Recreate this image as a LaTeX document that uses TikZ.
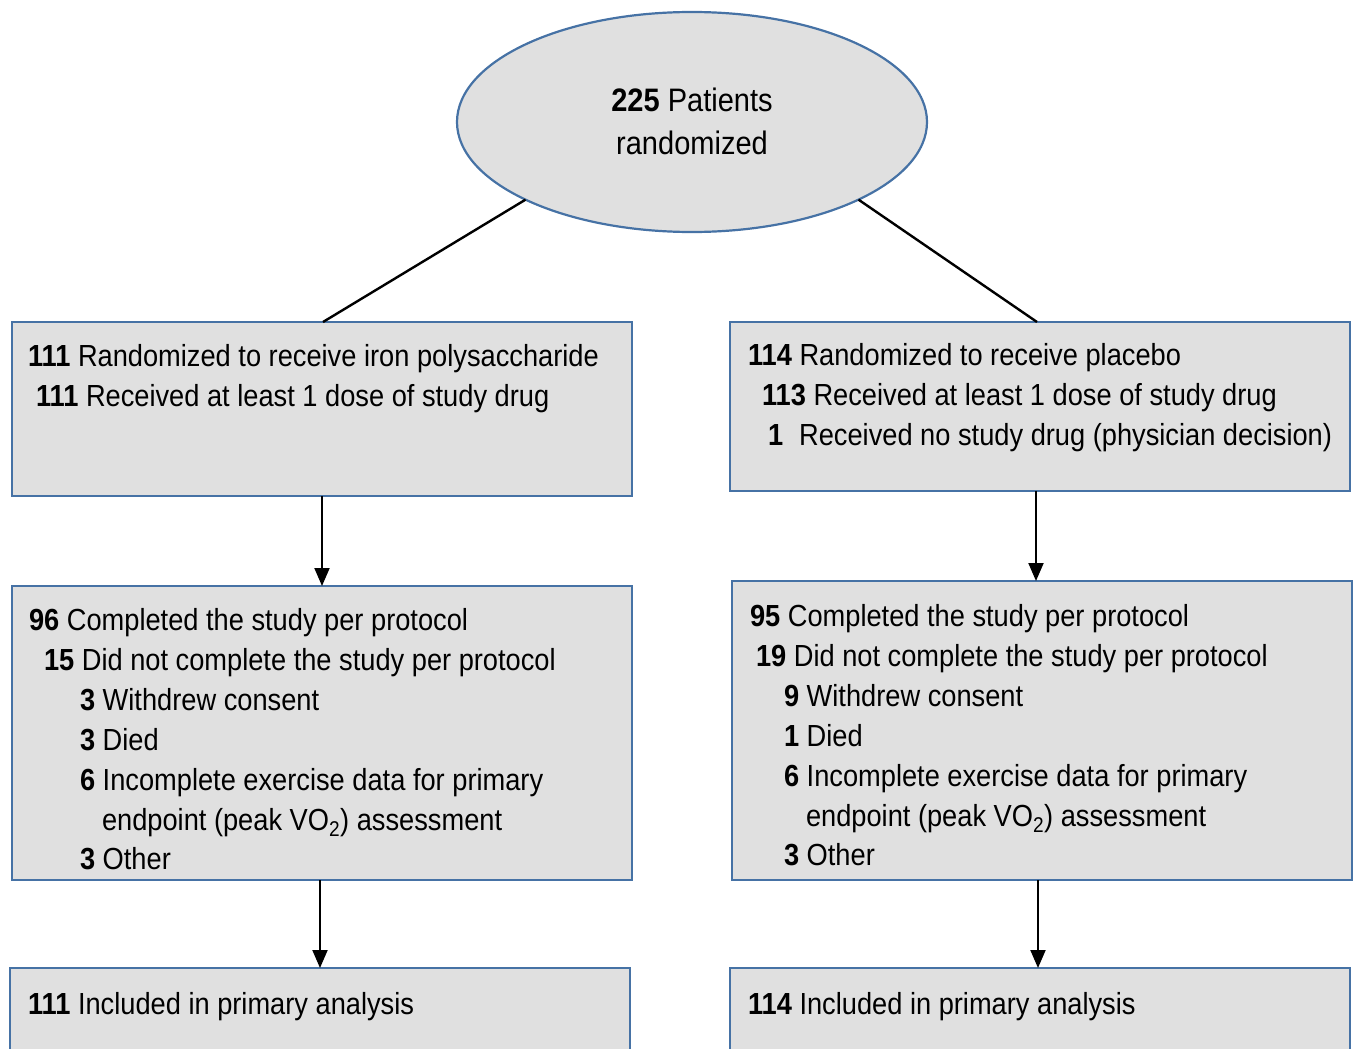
\documentclass[tikz,border=0pt]{standalone}
\usepackage{fontspec}
\setmainfont{Liberation Sans}[FakeStretch=0.893]
\usetikzlibrary{arrows.meta,shapes.geometric}
\definecolor{boxgray}{RGB}{224,224,224}
\definecolor{bordblue}{RGB}{70,114,165}
\tikzset{
  box/.style={draw=bordblue, fill=boxgray, line width=2.2pt, inner sep=0pt, outer sep=0pt, anchor=north west},
  txt/.style={anchor=base west, inner sep=0pt, outer sep=0pt, font=\fontsize{30.5}{36}\selectfont},
  etxt/.style={anchor=base, inner sep=0pt, outer sep=0pt, font=\fontsize{32.5}{38}\selectfont},
  arr/.style={line width=2pt, -{Triangle[length=18pt,width=15pt]}},
  link/.style={line width=2.4pt}
}
\newcommand{\vosub}{VO\textsubscript{2}}
\begin{document}
\begin{tikzpicture}[x=1pt,y=-1pt]
\useasboundingbox (0,0) rectangle (1355,1049);
\clip (0,0) rectangle (1355,1049);
% ellipse
\node[ellipse, draw=bordblue, fill=boxgray, line width=2.2pt, minimum width=470pt, minimum height=220pt, inner sep=0pt, outer sep=0pt] (ell) at (692,122) {};
\node[etxt] (e1) at (692,111) {\textbf{225} Patients};
\node[etxt] (e2) at (692,154) {randomized};
% boxes
\node[box, minimum width=620pt, minimum height=174pt] (b1) at (12,322) {};
\node[box, minimum width=620pt, minimum height=169pt] (b2) at (730,322) {};
\node[box, minimum width=620pt, minimum height=294pt] (b3) at (12,586) {};
\node[box, minimum width=620pt, minimum height=299pt] (b4) at (732,581) {};
\node[box, minimum width=620pt, minimum height=120pt] (b5) at (10,968) {};
\node[box, minimum width=620pt, minimum height=120pt] (b6) at (730,968) {};
% connectors
\coordinate (t1) at (323,322);
\coordinate (t2) at (1037,322);
\draw[link] (ell.205.3) -- (t1);
\draw[link] (ell.335.1) -- (t2);
\draw[arr] (b1.south -| 322,0) -- (b3.north -| 322,0);
\draw[arr] (b2.south -| 1036,0) -- (b4.north -| 1036,0);
\draw[arr] (b3.south -| 320,0) -- (b5.north -| 320,0);
\draw[arr] (b4.south -| 1038,0) -- (b6.north -| 1038,0);
% box 1 text
\node[txt] (l11) at (28,366) {\textbf{111} Randomized to receive iron polysaccharide};
\node[txt] (l12) at (36,406) {\textbf{111} Received at least 1 dose of study drug};
% box 2 text
\node[txt] (l21) at (748,365) {\textbf{114} Randomized to receive placebo};
\node[txt] (l22) at (762,405) {\textbf{113} Received at least 1 dose of study drug};
\node[txt] (l23) at (768,445) {\textbf{1}\hspace{16pt}Received no study drug (physician decision)};
% box 3 text
\node[txt] (l31) at (29,630) {\textbf{96} Completed the study per protocol};
\node[txt] (l32) at (44,670) {\textbf{15} Did not complete the study per protocol};
\node[txt] (l33) at (80,710) {\textbf{3} Withdrew consent};
\node[txt] (l34) at (80,750) {\textbf{3} Died};
\node[txt] (l35) at (80,790) {\textbf{6} Incomplete exercise data for primary};
\node[txt] (l36) at (102,830) {endpoint (peak \vosub) assessment};
\node[txt] (l37) at (80,869) {\textbf{3} Other};
% box 4 text
\node[txt] (l41) at (750,626) {\textbf{95} Completed the study per protocol};
\node[txt] (l42) at (756,666) {\textbf{19} Did not complete the study per protocol};
\node[txt] (l43) at (784,706) {\textbf{9} Withdrew consent};
\node[txt] (l44) at (784,746) {\textbf{1} Died};
\node[txt] (l45) at (784,786) {\textbf{6} Incomplete exercise data for primary};
\node[txt] (l46) at (806,826) {endpoint (peak \vosub) assessment};
\node[txt] (l47) at (784,865) {\textbf{3} Other};
% box 5/6 text
\node[txt] (l51) at (28,1014) {\textbf{111} Included in primary analysis};
\node[txt] (l61) at (748,1014) {\textbf{114} Included in primary analysis};
\end{tikzpicture}
\end{document}
